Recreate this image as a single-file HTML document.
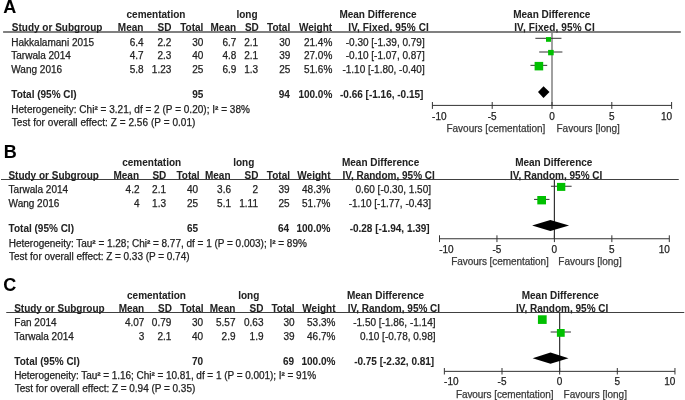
<!DOCTYPE html>
<html><head><meta charset="utf-8"><style>
html,body{margin:0;padding:0;background:#fff;width:685px;height:400px;overflow:hidden}
svg{display:block;will-change:transform;font-family:"Liberation Sans",sans-serif;font-size:10px}
text{stroke-width:0.25px} text[font-weight=bold]{stroke-width:0.05px}
</style></head><body>
<svg width="685" height="400" viewBox="0 0 685 400">
<rect x="3.10" y="31.00" width="677.70" height="2.00" fill="#808080"/>
<rect x="551.00" y="33.00" width="2.00" height="72.40" fill="#a0a0a0"/>
<rect x="432.40" y="104.90" width="239.20" height="1.00" fill="#333"/>
<rect x="431.90" y="102.00" width="1.00" height="6.90" fill="#333"/>
<rect x="491.70" y="102.00" width="1.00" height="6.90" fill="#333"/>
<rect x="551.50" y="102.00" width="1.00" height="6.90" fill="#333"/>
<rect x="611.30" y="102.00" width="1.00" height="6.90" fill="#333"/>
<rect x="671.10" y="102.00" width="1.00" height="6.90" fill="#333"/>
<rect x="535.38" y="37.80" width="26.07" height="1.00" fill="#333"/>
<rect x="546.00" y="37.10" width="5.00" height="4.70" fill="#00c000"/>
<rect x="539.20" y="51.50" width="23.20" height="1.00" fill="#333"/>
<rect x="548.10" y="49.90" width="5.60" height="5.40" fill="#00c000"/>
<rect x="530.47" y="64.85" width="16.74" height="1.00" fill="#333"/>
<rect x="534.60" y="61.90" width="8.60" height="8.50" fill="#00c000"/>
<polygon points="538.00,92.05 543.50,86.20 549.50,92.05 543.50,97.90" fill="#000"/>
<rect x="1.00" y="179.00" width="677.75" height="1.00" fill="#404040"/>
<rect x="553.80" y="180.00" width="1.20" height="58.75" fill="#333"/>
<rect x="439.50" y="238.25" width="229.80" height="1.00" fill="#333"/>
<rect x="439.00" y="235.30" width="1.00" height="6.80" fill="#333"/>
<rect x="496.45" y="235.30" width="1.00" height="6.80" fill="#333"/>
<rect x="553.90" y="235.30" width="1.00" height="6.80" fill="#333"/>
<rect x="611.35" y="235.30" width="1.00" height="6.80" fill="#333"/>
<rect x="668.80" y="235.30" width="1.00" height="6.80" fill="#333"/>
<rect x="550.95" y="185.75" width="20.68" height="1.00" fill="#333"/>
<rect x="557.00" y="182.90" width="8.30" height="8.00" fill="#00c000"/>
<rect x="534.06" y="198.90" width="15.40" height="1.00" fill="#333"/>
<rect x="537.30" y="196.00" width="8.70" height="8.40" fill="#00c000"/>
<polygon points="532.10,225.55 550.35,220.00 569.10,225.55 550.35,231.10" fill="#000"/>
<rect x="6.25" y="312.00" width="678.00" height="1.00" fill="#404040"/>
<rect x="559.05" y="313.00" width="1.20" height="58.35" fill="#333"/>
<rect x="444.35" y="370.85" width="230.60" height="1.00" fill="#333"/>
<rect x="443.85" y="368.00" width="1.00" height="6.50" fill="#333"/>
<rect x="501.50" y="368.00" width="1.00" height="6.50" fill="#333"/>
<rect x="559.15" y="368.00" width="1.00" height="6.50" fill="#333"/>
<rect x="616.80" y="368.00" width="1.00" height="6.50" fill="#333"/>
<rect x="674.45" y="368.00" width="1.00" height="6.50" fill="#333"/>
<rect x="537.92" y="315.28" width="8.75" height="8.65" fill="#00c000"/>
<rect x="550.66" y="331.50" width="20.29" height="1.00" fill="#333"/>
<rect x="556.90" y="329.00" width="7.80" height="7.80" fill="#00c000"/>
<polygon points="532.65,358.20 550.50,352.60 568.50,358.20 550.50,363.80" fill="#000"/>
<text x="3.3000000000000003" y="13.1" font-weight="bold" font-size="18" fill="#000" stroke="#000">A</text>
<text x="156.0" y="18.1" text-anchor="middle" font-weight="bold" fill="#222" stroke="#222">cementation</text>
<text x="247.0" y="18.1" text-anchor="middle" font-weight="bold" fill="#222" stroke="#222">long</text>
<text x="378.0" y="18.1" text-anchor="middle" font-weight="bold" fill="#222" stroke="#222">Mean Difference</text>
<text x="551.8" y="18.1" text-anchor="middle" font-weight="bold" fill="#222" stroke="#222">Mean Difference</text>
<text x="11.799999999999999" y="30.8" font-weight="bold" fill="#222" stroke="#222">Study or Subgroup</text>
<text x="143.4" y="30.8" text-anchor="end" font-weight="bold" fill="#222" stroke="#222">Mean</text>
<text x="171.5" y="30.8" text-anchor="end" font-weight="bold" fill="#222" stroke="#222">SD</text>
<text x="203.4" y="30.8" text-anchor="end" font-weight="bold" fill="#222" stroke="#222">Total</text>
<text x="236.10000000000002" y="30.8" text-anchor="end" font-weight="bold" fill="#222" stroke="#222">Mean</text>
<text x="258.8" y="30.8" text-anchor="end" font-weight="bold" fill="#222" stroke="#222">SD</text>
<text x="290.2" y="30.8" text-anchor="end" font-weight="bold" fill="#222" stroke="#222">Total</text>
<text x="332.1" y="30.8" text-anchor="end" font-weight="bold" fill="#222" stroke="#222">Weight</text>
<text x="388.6" y="30.8" text-anchor="middle" font-weight="bold" letter-spacing="0.12" fill="#222" stroke="#222">IV, Fixed, 95% CI</text>
<text x="554.5" y="30.8" text-anchor="middle" font-weight="bold" letter-spacing="0.12" fill="#222" stroke="#222">IV, Fixed, 95% CI</text>
<text x="11.299999999999999" y="45.9" fill="#222" stroke="#222">Hakkalamani 2015</text>
<text x="143.7" y="45.9" text-anchor="end" fill="#222" stroke="#222">6.4</text>
<text x="171.3" y="45.9" text-anchor="end" fill="#222" stroke="#222">2.2</text>
<text x="203.4" y="45.9" text-anchor="end" fill="#222" stroke="#222">30</text>
<text x="236.3" y="45.9" text-anchor="end" fill="#222" stroke="#222">6.7</text>
<text x="258.1" y="45.9" text-anchor="end" fill="#222" stroke="#222">2.1</text>
<text x="290.4" y="45.9" text-anchor="end" fill="#222" stroke="#222">30</text>
<text x="332.3" y="45.9" text-anchor="end" fill="#222" stroke="#222">21.4%</text>
<text x="424.7" y="45.9" text-anchor="end" fill="#222" stroke="#222">-0.30 [-1.39, 0.79]</text>
<text x="11.299999999999999" y="59.25" fill="#222" stroke="#222">Tarwala 2014</text>
<text x="143.7" y="59.25" text-anchor="end" fill="#222" stroke="#222">4.7</text>
<text x="171.3" y="59.25" text-anchor="end" fill="#222" stroke="#222">2.3</text>
<text x="203.4" y="59.25" text-anchor="end" fill="#222" stroke="#222">40</text>
<text x="236.3" y="59.25" text-anchor="end" fill="#222" stroke="#222">4.8</text>
<text x="258.1" y="59.25" text-anchor="end" fill="#222" stroke="#222">2.1</text>
<text x="290.4" y="59.25" text-anchor="end" fill="#222" stroke="#222">39</text>
<text x="332.3" y="59.25" text-anchor="end" fill="#222" stroke="#222">27.0%</text>
<text x="424.7" y="59.25" text-anchor="end" fill="#222" stroke="#222">-0.10 [-1.07, 0.87]</text>
<text x="11.299999999999999" y="72.5" fill="#222" stroke="#222">Wang 2016</text>
<text x="143.7" y="72.5" text-anchor="end" fill="#222" stroke="#222">5.8</text>
<text x="171.3" y="72.5" text-anchor="end" fill="#222" stroke="#222">1.23</text>
<text x="203.4" y="72.5" text-anchor="end" fill="#222" stroke="#222">25</text>
<text x="236.3" y="72.5" text-anchor="end" fill="#222" stroke="#222">6.9</text>
<text x="258.1" y="72.5" text-anchor="end" fill="#222" stroke="#222">1.3</text>
<text x="290.4" y="72.5" text-anchor="end" fill="#222" stroke="#222">25</text>
<text x="332.3" y="72.5" text-anchor="end" fill="#222" stroke="#222">51.6%</text>
<text x="424.7" y="72.5" text-anchor="end" fill="#222" stroke="#222">-1.10 [-1.80, -0.40]</text>
<text x="11.299999999999999" y="98.2" font-weight="bold" fill="#222" stroke="#222">Total (95% CI)</text>
<text x="203.4" y="98.2" text-anchor="end" font-weight="bold" fill="#222" stroke="#222">95</text>
<text x="289.9" y="98.2" text-anchor="end" font-weight="bold" fill="#222" stroke="#222">94</text>
<text x="332.3" y="98.2" text-anchor="end" font-weight="bold" fill="#222" stroke="#222">100.0%</text>
<text x="423.4" y="98.2" text-anchor="end" font-weight="bold" fill="#222" stroke="#222">-0.66 [-1.16, -0.15]</text>
<text x="11.299999999999999" y="112.7" textLength="238.58" lengthAdjust="spacing" fill="#222" stroke="#222">Heterogeneity: Chi<tspan font-weight="bold">²</tspan> = 3.21, df = 2 (P = 0.20); I<tspan font-weight="bold">²</tspan> = 38%</text>
<text x="11.799999999999999" y="126.0" textLength="183.61" lengthAdjust="spacing" fill="#222" stroke="#222">Test for overall effect: Z = 2.56 (P = 0.01)</text>
<text x="432.09999999999997" y="120.1" fill="#222" stroke="#222">-10</text>
<text x="492.2" y="120.1" text-anchor="middle" fill="#222" stroke="#222">-5</text>
<text x="552.0" y="120.1" text-anchor="middle" fill="#222" stroke="#222">0</text>
<text x="611.8" y="120.1" text-anchor="middle" fill="#222" stroke="#222">5</text>
<text x="672.1" y="120.1" text-anchor="end" fill="#222" stroke="#222">10</text>
<text x="545.4" y="131.5" text-anchor="end" fill="#3a3a3a" stroke="#3a3a3a">Favours [cementation]</text>
<text x="556.5" y="131.5" fill="#3a3a3a" stroke="#3a3a3a">Favours [long]</text>
<text x="3.65" y="157.75" font-weight="bold" font-size="18" fill="#000" stroke="#000">B</text>
<text x="151.7" y="166.2" text-anchor="middle" font-weight="bold" fill="#222" stroke="#222">cementation</text>
<text x="243.75" y="166.2" text-anchor="middle" font-weight="bold" fill="#222" stroke="#222">long</text>
<text x="380.6" y="166.2" text-anchor="middle" font-weight="bold" fill="#222" stroke="#222">Mean Difference</text>
<text x="553.75" y="166.2" text-anchor="middle" font-weight="bold" fill="#222" stroke="#222">Mean Difference</text>
<text x="8.4" y="178.9" font-weight="bold" fill="#222" stroke="#222">Study or Subgroup</text>
<text x="139.0" y="178.9" text-anchor="end" font-weight="bold" fill="#222" stroke="#222">Mean</text>
<text x="166.3" y="178.9" text-anchor="end" font-weight="bold" fill="#222" stroke="#222">SD</text>
<text x="199.60000000000002" y="178.9" text-anchor="end" font-weight="bold" fill="#222" stroke="#222">Total</text>
<text x="230.5" y="178.9" text-anchor="end" font-weight="bold" fill="#222" stroke="#222">Mean</text>
<text x="258.5" y="178.9" text-anchor="end" font-weight="bold" fill="#222" stroke="#222">SD</text>
<text x="290.0" y="178.9" text-anchor="end" font-weight="bold" fill="#222" stroke="#222">Total</text>
<text x="330.5" y="178.9" text-anchor="end" font-weight="bold" fill="#222" stroke="#222">Weight</text>
<text x="388.6" y="178.9" text-anchor="middle" font-weight="bold" fill="#222" stroke="#222">IV, Random, 95% CI</text>
<text x="556.1" y="178.9" text-anchor="middle" font-weight="bold" fill="#222" stroke="#222">IV, Random, 95% CI</text>
<text x="8.6" y="193.3" fill="#222" stroke="#222">Tarwala 2014</text>
<text x="139.5" y="193.3" text-anchor="end" fill="#222" stroke="#222">4.2</text>
<text x="166.0" y="193.3" text-anchor="end" fill="#222" stroke="#222">2.1</text>
<text x="198.2" y="193.3" text-anchor="end" fill="#222" stroke="#222">40</text>
<text x="231.0" y="193.3" text-anchor="end" fill="#222" stroke="#222">3.6</text>
<text x="258.0" y="193.3" text-anchor="end" fill="#222" stroke="#222">2</text>
<text x="289.5" y="193.3" text-anchor="end" fill="#222" stroke="#222">39</text>
<text x="330.4" y="193.3" text-anchor="end" fill="#222" stroke="#222">48.3%</text>
<text x="431.0" y="193.3" text-anchor="end" fill="#222" stroke="#222">0.60 [-0.30, 1.50]</text>
<text x="8.6" y="206.6" fill="#222" stroke="#222">Wang 2016</text>
<text x="139.5" y="206.6" text-anchor="end" fill="#222" stroke="#222">4</text>
<text x="166.0" y="206.6" text-anchor="end" fill="#222" stroke="#222">1.3</text>
<text x="198.2" y="206.6" text-anchor="end" fill="#222" stroke="#222">25</text>
<text x="231.0" y="206.6" text-anchor="end" fill="#222" stroke="#222">5.1</text>
<text x="258.0" y="206.6" text-anchor="end" fill="#222" stroke="#222">1.11</text>
<text x="289.5" y="206.6" text-anchor="end" fill="#222" stroke="#222">25</text>
<text x="330.4" y="206.6" text-anchor="end" fill="#222" stroke="#222">51.7%</text>
<text x="431.0" y="206.6" text-anchor="end" fill="#222" stroke="#222">-1.10 [-1.77, -0.43]</text>
<text x="8.6" y="232.1" font-weight="bold" fill="#222" stroke="#222">Total (95% CI)</text>
<text x="198.2" y="232.1" text-anchor="end" font-weight="bold" fill="#222" stroke="#222">65</text>
<text x="289.0" y="232.1" text-anchor="end" font-weight="bold" fill="#222" stroke="#222">64</text>
<text x="330.4" y="232.1" text-anchor="end" font-weight="bold" fill="#222" stroke="#222">100.0%</text>
<text x="429.7" y="232.1" text-anchor="end" font-weight="bold" fill="#222" stroke="#222">-0.28 [-1.94, 1.39]</text>
<text x="8.799999999999999" y="246.5" textLength="298.05" lengthAdjust="spacing" fill="#222" stroke="#222">Heterogeneity: Tau<tspan font-weight="bold">²</tspan> = 1.28; Chi<tspan font-weight="bold">²</tspan> = 8.77, df = 1 (P = 0.003); I<tspan font-weight="bold">²</tspan> = 89%</text>
<text x="9.1" y="259.5" textLength="180.41" lengthAdjust="spacing" fill="#222" stroke="#222">Test for overall effect: Z = 0.33 (P = 0.74)</text>
<text x="439.2" y="253.1" fill="#222" stroke="#222">-10</text>
<text x="496.95" y="253.1" text-anchor="middle" fill="#222" stroke="#222">-5</text>
<text x="554.4" y="253.1" text-anchor="middle" fill="#222" stroke="#222">0</text>
<text x="611.85" y="253.1" text-anchor="middle" fill="#222" stroke="#222">5</text>
<text x="669.8" y="253.1" text-anchor="end" fill="#222" stroke="#222">10</text>
<text x="548.6999999999999" y="264.9" text-anchor="end" letter-spacing="-0.07" fill="#3a3a3a" stroke="#3a3a3a">Favours [cementation]</text>
<text x="558.3" y="264.9" fill="#3a3a3a" stroke="#3a3a3a">Favours [long]</text>
<text x="3.3000000000000003" y="290.9" font-weight="bold" font-size="18" fill="#000" stroke="#000">C</text>
<text x="156.5" y="298.7" text-anchor="middle" font-weight="bold" fill="#222" stroke="#222">cementation</text>
<text x="248.8" y="298.7" text-anchor="middle" font-weight="bold" fill="#222" stroke="#222">long</text>
<text x="385.5" y="298.7" text-anchor="middle" font-weight="bold" fill="#222" stroke="#222">Mean Difference</text>
<text x="560.3" y="298.7" text-anchor="middle" font-weight="bold" fill="#222" stroke="#222">Mean Difference</text>
<text x="14.15" y="311.6" font-weight="bold" fill="#222" stroke="#222">Study or Subgroup</text>
<text x="144.20000000000002" y="311.6" text-anchor="end" font-weight="bold" fill="#222" stroke="#222">Mean</text>
<text x="172.0" y="311.6" text-anchor="end" font-weight="bold" fill="#222" stroke="#222">SD</text>
<text x="203.5" y="311.6" text-anchor="end" font-weight="bold" fill="#222" stroke="#222">Total</text>
<text x="235.3" y="311.6" text-anchor="end" font-weight="bold" fill="#222" stroke="#222">Mean</text>
<text x="263.5" y="311.6" text-anchor="end" font-weight="bold" fill="#222" stroke="#222">SD</text>
<text x="294.6" y="311.6" text-anchor="end" font-weight="bold" fill="#222" stroke="#222">Total</text>
<text x="335.5" y="311.6" text-anchor="end" font-weight="bold" fill="#222" stroke="#222">Weight</text>
<text x="393.9" y="311.6" text-anchor="middle" font-weight="bold" fill="#222" stroke="#222">IV, Random, 95% CI</text>
<text x="562.1" y="311.6" text-anchor="middle" font-weight="bold" fill="#222" stroke="#222">IV, Random, 95% CI</text>
<text x="14.35" y="326.4" fill="#222" stroke="#222">Fan 2014</text>
<text x="144.4" y="326.4" text-anchor="end" fill="#222" stroke="#222">4.07</text>
<text x="171.3" y="326.4" text-anchor="end" fill="#222" stroke="#222">0.79</text>
<text x="203.2" y="326.4" text-anchor="end" fill="#222" stroke="#222">30</text>
<text x="235.5" y="326.4" text-anchor="end" fill="#222" stroke="#222">5.57</text>
<text x="263.5" y="326.4" text-anchor="end" fill="#222" stroke="#222">0.63</text>
<text x="294.5" y="326.4" text-anchor="end" fill="#222" stroke="#222">30</text>
<text x="335.4" y="326.4" text-anchor="end" fill="#222" stroke="#222">53.3%</text>
<text x="435.5" y="326.4" text-anchor="end" fill="#222" stroke="#222">-1.50 [-1.86, -1.14]</text>
<text x="14.35" y="339.5" fill="#222" stroke="#222">Tarwala 2014</text>
<text x="144.4" y="339.5" text-anchor="end" fill="#222" stroke="#222">3</text>
<text x="171.3" y="339.5" text-anchor="end" fill="#222" stroke="#222">2.1</text>
<text x="203.2" y="339.5" text-anchor="end" fill="#222" stroke="#222">40</text>
<text x="235.5" y="339.5" text-anchor="end" fill="#222" stroke="#222">2.9</text>
<text x="263.5" y="339.5" text-anchor="end" fill="#222" stroke="#222">1.9</text>
<text x="294.5" y="339.5" text-anchor="end" fill="#222" stroke="#222">39</text>
<text x="335.4" y="339.5" text-anchor="end" fill="#222" stroke="#222">46.7%</text>
<text x="435.5" y="339.5" text-anchor="end" fill="#222" stroke="#222">0.10 [-0.78, 0.98]</text>
<text x="14.35" y="364.55" font-weight="bold" fill="#222" stroke="#222">Total (95% CI)</text>
<text x="203.2" y="364.55" text-anchor="end" font-weight="bold" fill="#222" stroke="#222">70</text>
<text x="294.0" y="364.55" text-anchor="end" font-weight="bold" fill="#222" stroke="#222">69</text>
<text x="335.4" y="364.55" text-anchor="end" font-weight="bold" fill="#222" stroke="#222">100.0%</text>
<text x="434.2" y="364.55" text-anchor="end" font-weight="bold" fill="#222" stroke="#222">-0.75 [-2.32, 0.81]</text>
<text x="14.15" y="378.9" textLength="301.91" lengthAdjust="spacing" fill="#222" stroke="#222">Heterogeneity: Tau<tspan font-weight="bold">²</tspan> = 1.16; Chi<tspan font-weight="bold">²</tspan> = 10.81, df = 1 (P = 0.001); I<tspan font-weight="bold">²</tspan> = 91%</text>
<text x="14.85" y="392.3" textLength="180.41" lengthAdjust="spacing" fill="#222" stroke="#222">Test for overall effect: Z = 0.94 (P = 0.35)</text>
<text x="444.04999999999995" y="385.3" fill="#222" stroke="#222">-10</text>
<text x="502.0" y="385.3" text-anchor="middle" fill="#222" stroke="#222">-5</text>
<text x="559.65" y="385.3" text-anchor="middle" fill="#222" stroke="#222">0</text>
<text x="617.3" y="385.3" text-anchor="middle" fill="#222" stroke="#222">5</text>
<text x="675.4499999999999" y="385.3" text-anchor="end" fill="#222" stroke="#222">10</text>
<text x="553.35" y="397.9" text-anchor="end" letter-spacing="-0.07" fill="#3a3a3a" stroke="#3a3a3a">Favours [cementation]</text>
<text x="563.55" y="397.9" fill="#3a3a3a" stroke="#3a3a3a">Favours [long]</text>
</svg>
</body></html>
